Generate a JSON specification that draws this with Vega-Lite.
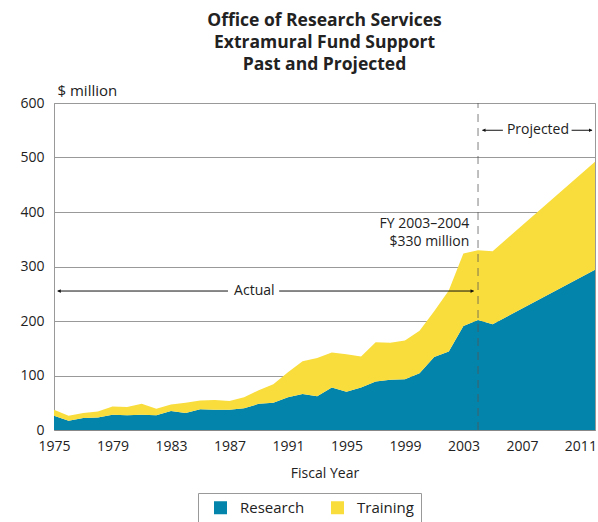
{
  "$schema": "https://vega.github.io/schema/vega-lite/v6.json",
  "width": 541,
  "height": 327,
  "autosize": {"type": "none"},
  "padding": {"left": 54, "top": 103, "right": 3, "bottom": 92},
  "background": "white",
  "config": {
    "font": "Open Sans",
    "view": {"stroke": "#999", "strokeWidth": 1},
    "axis": {"labelFont": "Open Sans", "titleFont": "Open Sans", "labelColor": "#222", "titleColor": "#222", "labelFontSize": 14, "titleFontSize": 14, "titleFontWeight": "normal", "ticks": false}
  },
  "title": {
    "text": ["Office of Research Services", "Extramural Fund Support", "Past and Projected"],
    "fontSize": 17.5,
    "fontWeight": "bold",
    "font": "Open Sans",
    "color": "#222",
    "lineHeight": 22,
    "anchor": "middle",
    "offset": 10
  },
  "datasets": {
    "funds": [
      {"year": 1975, "source": "Research", "value": 26}, {"year": 1975, "source": "Training", "value": 11},
      {"year": 1976, "source": "Research", "value": 17}, {"year": 1976, "source": "Training", "value": 9},
      {"year": 1977, "source": "Research", "value": 22}, {"year": 1977, "source": "Training", "value": 9},
      {"year": 1978, "source": "Research", "value": 23}, {"year": 1978, "source": "Training", "value": 11},
      {"year": 1979, "source": "Research", "value": 28}, {"year": 1979, "source": "Training", "value": 15},
      {"year": 1980, "source": "Research", "value": 27}, {"year": 1980, "source": "Training", "value": 15},
      {"year": 1981, "source": "Research", "value": 28}, {"year": 1981, "source": "Training", "value": 20},
      {"year": 1982, "source": "Research", "value": 27}, {"year": 1982, "source": "Training", "value": 12},
      {"year": 1983, "source": "Research", "value": 35}, {"year": 1983, "source": "Training", "value": 12},
      {"year": 1984, "source": "Research", "value": 31}, {"year": 1984, "source": "Training", "value": 19},
      {"year": 1985, "source": "Research", "value": 38}, {"year": 1985, "source": "Training", "value": 16},
      {"year": 1986, "source": "Research", "value": 37}, {"year": 1986, "source": "Training", "value": 18},
      {"year": 1987, "source": "Research", "value": 37}, {"year": 1987, "source": "Training", "value": 16},
      {"year": 1988, "source": "Research", "value": 40}, {"year": 1988, "source": "Training", "value": 20},
      {"year": 1989, "source": "Research", "value": 48}, {"year": 1989, "source": "Training", "value": 25},
      {"year": 1990, "source": "Research", "value": 50}, {"year": 1990, "source": "Training", "value": 34},
      {"year": 1991, "source": "Research", "value": 60}, {"year": 1991, "source": "Training", "value": 46},
      {"year": 1992, "source": "Research", "value": 66}, {"year": 1992, "source": "Training", "value": 60},
      {"year": 1993, "source": "Research", "value": 62}, {"year": 1993, "source": "Training", "value": 70},
      {"year": 1994, "source": "Research", "value": 78}, {"year": 1994, "source": "Training", "value": 64},
      {"year": 1995, "source": "Research", "value": 70}, {"year": 1995, "source": "Training", "value": 69},
      {"year": 1996, "source": "Research", "value": 78}, {"year": 1996, "source": "Training", "value": 57},
      {"year": 1997, "source": "Research", "value": 89}, {"year": 1997, "source": "Training", "value": 72},
      {"year": 1998, "source": "Research", "value": 92}, {"year": 1998, "source": "Training", "value": 68},
      {"year": 1999, "source": "Research", "value": 93}, {"year": 1999, "source": "Training", "value": 71},
      {"year": 2000, "source": "Research", "value": 104}, {"year": 2000, "source": "Training", "value": 78},
      {"year": 2001, "source": "Research", "value": 134}, {"year": 2001, "source": "Training", "value": 84},
      {"year": 2002, "source": "Research", "value": 144}, {"year": 2002, "source": "Training", "value": 112},
      {"year": 2003, "source": "Research", "value": 191}, {"year": 2003, "source": "Training", "value": 133},
      {"year": 2004, "source": "Research", "value": 202}, {"year": 2004, "source": "Training", "value": 128},
      {"year": 2005, "source": "Research", "value": 194}, {"year": 2005, "source": "Training", "value": 134},
      {"year": 2012, "source": "Research", "value": 294}, {"year": 2012, "source": "Training", "value": 198}
    ],
    "segments": [
      {"x1": 1975.25, "x2": 1986.9, "y": 255},
      {"x1": 1990.4, "x2": 2003.7, "y": 255},
      {"x1": 2004.3, "x2": 2005.7, "y": 550},
      {"x1": 2010.4, "x2": 2011.8, "y": 550}
    ],
    "heads": [
      {"x": 1975.35, "y": 255, "shape": "triangle-left"},
      {"x": 2003.6, "y": 255, "shape": "triangle-right"},
      {"x": 2004.4, "y": 550, "shape": "triangle-left"},
      {"x": 2011.7, "y": 550, "shape": "triangle-right"}
    ],
    "labels": [
      {"x": 1988.7, "y": 255, "label": "Actual", "align": "center"},
      {"x": 2008.1, "y": 550, "label": "Projected", "align": "center"}
    ],
    "fy": [
      {"x": 2003.4, "y": 378, "label": "FY 2003–2004"},
      {"x": 2003.4, "y": 345, "label": "$330 million"}
    ]
  },
  "layer": [
    {
      "data": {"name": "funds"},
      "mark": {"type": "area", "interpolate": "linear"},
      "encoding": {
        "x": {
          "field": "year", "type": "quantitative",
          "scale": {"domain": [1975, 2012], "nice": false, "zero": false},
          "axis": {"values": [1975, 1979, 1983, 1987, 1991, 1995, 1999, 2003, 2007, 2011], "format": "d", "grid": false, "title": "Fiscal Year", "titlePadding": 13, "labelPadding": 9, "domainColor": "#888", "labelFlush": false}
        },
        "y": {
          "field": "value", "type": "quantitative", "stack": "zero",
          "scale": {"domain": [0, 600], "nice": false},
          "axis": {"values": [0, 100, 200, 300, 400, 500, 600], "grid": true, "gridColor": "#999", "gridWidth": 1, "domainColor": "#999", "labelPadding": 10, "title": "$ million", "titleFontSize": 15, "titleAngle": 0, "titleAlign": "left", "titleBaseline": "bottom", "titleX": 3, "titleY": -5}
        },
        "color": {
          "field": "source", "type": "nominal",
          "scale": {"domain": ["Research", "Training"], "range": ["#0384AA", "#F9DD3C"]},
          "legend": {"title": null, "orient": "none", "direction": "horizontal", "legendX": 144, "legendY": 390, "strokeColor": "#999", "padding": 7, "symbolOffset": 8, "symbolType": "square", "symbolSize": 169, "symbolStrokeWidth": 0, "symbolOpacity": 1, "labelFontSize": 15, "labelFont": "Open Sans", "labelColor": "#222", "columnPadding": 17, "labelOffset": 12, "labelExpr": "datum.label + '  '"}
        },
        "order": {"field": "source", "sort": "ascending"}
      }
    },
    {
      "data": {"values": [{"year": 2004}]},
      "mark": {"type": "rule", "stroke": "#555", "strokeOpacity": 0.5, "strokeWidth": 1.5, "strokeDash": [8, 6]},
      "encoding": {
        "x": {"field": "year", "type": "quantitative"},
        "y": {"datum": 0},
        "y2": {"datum": 600}
      }
    },
    {
      "data": {"name": "segments"},
      "mark": {"type": "rule", "color": "#111", "strokeWidth": 1},
      "encoding": {
        "x": {"field": "x1", "type": "quantitative"},
        "x2": {"field": "x2"},
        "y": {"field": "y", "type": "quantitative"}
      }
    },
    {
      "data": {"name": "heads"},
      "mark": {"type": "point", "filled": true, "color": "#111", "size": 14, "opacity": 1},
      "encoding": {
        "x": {"field": "x", "type": "quantitative"},
        "y": {"field": "y", "type": "quantitative"},
        "shape": {"field": "shape", "type": "nominal", "scale": null, "legend": null}
      }
    },
    {
      "data": {"name": "labels"},
      "mark": {"type": "text", "fontSize": 14, "color": "#222", "align": "center", "baseline": "middle", "font": "Open Sans"},
      "encoding": {
        "x": {"field": "x", "type": "quantitative"},
        "y": {"field": "y", "type": "quantitative"},
        "text": {"field": "label"}
      }
    },
    {
      "data": {"name": "fy"},
      "mark": {"type": "text", "fontSize": 14, "color": "#222", "align": "right", "baseline": "middle", "font": "Open Sans"},
      "encoding": {
        "x": {"field": "x", "type": "quantitative"},
        "y": {"field": "y", "type": "quantitative"},
        "text": {"field": "label"}
      }
    }
  ]
}
